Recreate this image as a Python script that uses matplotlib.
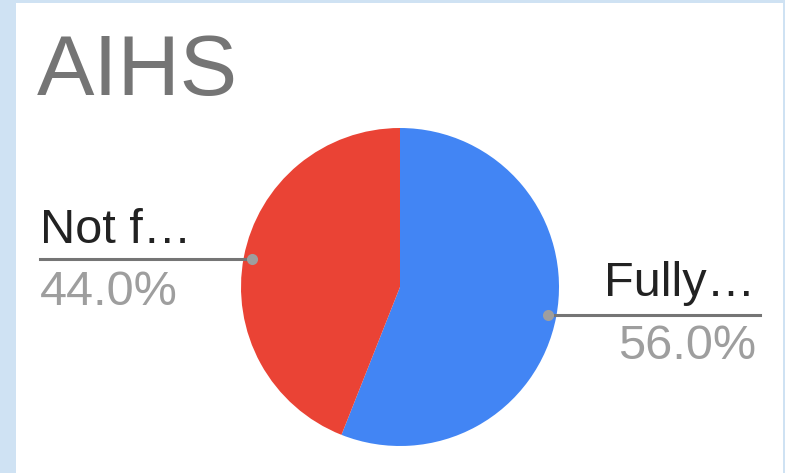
import matplotlib.pyplot as plt
from matplotlib.patches import Rectangle
import numpy as np

plt.rcParams['font.family'] = ['Liberation Sans', 'DejaVu Sans']

title = 'AIHS'
labels = ['Fully…', 'Not f…']
values = [56.0, 44.0]
colors = ['#4285f4', '#ea4335']

W, H = 785, 473
fig = plt.figure(figsize=(W / 100, H / 100), dpi=100)
fig.patch.set_facecolor('#cfe2f3')
ax = fig.add_axes([0, 0, 1, 1])

# white card
ax.add_patch(Rectangle((16, 3), 767, 475, facecolor='white', edgecolor='none', zorder=0))

ax.text(37, 95, title, fontsize=62, color='#757575', ha='left', va='baseline')

# pie in pixel space (y axis flipped)
cx, cy, r = 400, 287, 159
wedges, _ = ax.pie(values, colors=colors, startangle=-90, counterclock=True,
                   radius=r, center=(cx, cy), frame=True,
                   wedgeprops=dict(linewidth=0))
ax.set_xlim(0, W)
ax.set_ylim(H, 0)
ax.axis('off')

# leader lines + labels
for w, lab, val in zip(wedges, labels, values):
    mid = np.deg2rad((w.theta1 + w.theta2) / 2)
    px = cx + 0.95 * r * np.cos(mid)
    py = cy + 0.95 * r * np.sin(mid)
    if px > cx:
        ax.plot([px, 760], [py, py], color='#757575', lw=2.2, zorder=3)
        ax.plot(px, py, 'o', ms=8, color='#9e9e9e', mec='none', zorder=4)
        ax.text(755, py - 19, lab, fontsize=35, color='#222222', ha='right', va='baseline')
        ax.text(756, py + 44, f'{val:.1f}%', fontsize=35, color='#9e9e9e', ha='right', va='baseline')
    else:
        ax.plot([40, px], [py, py], color='#757575', lw=2.2, zorder=3)
        ax.plot(px, py, 'o', ms=8, color='#9e9e9e', mec='none', zorder=4)
        ax.text(40, py - 16, lab, fontsize=35, color='#222222', ha='left', va='baseline')
        ax.text(40, py + 46, f'{val:.1f}%', fontsize=35, color='#9e9e9e', ha='left', va='baseline')

fig.savefig('out.png', dpi=100)
